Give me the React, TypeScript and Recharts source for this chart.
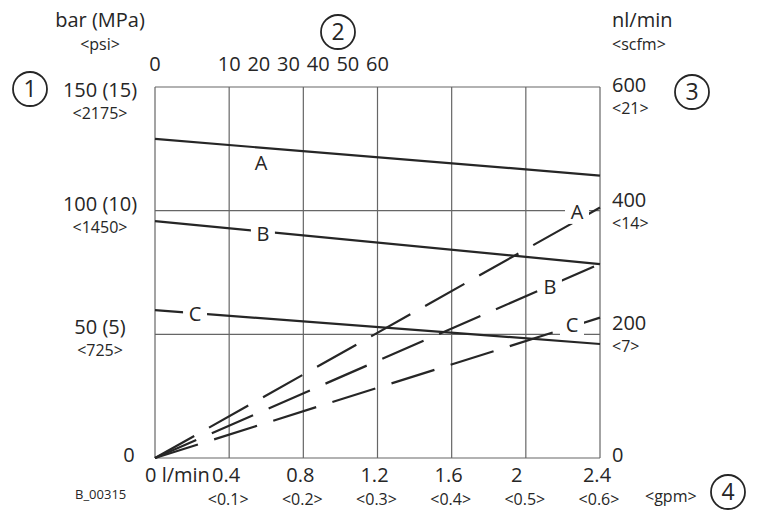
import React from 'react'
import { LineChart, Line, XAxis, YAxis, CartesianGrid, ReferenceDot } from 'recharts'

// bottom axis: flow of oil (l/min) with gpm below
const flowTicks = [0, 0.4, 0.8, 1.2, 1.6, 2, 2.4]
const flowLabels = ['0 l/min', '0.4', '0.8', '1.2', '1.6', '2', '2.4']
const gpmLabels = ['', '<0.1>', '<0.2>', '<0.3>', '<0.4>', '<0.5>', '<0.6>']

// top axis (2)
const topTicks = [0, 0.4, 0.56, 0.72, 0.88, 1.04, 1.2]
const topLabels = ['0', '10', '20', '30', '40', '50', '60']

// left axis: pressure
const pressureTicks = [0, 50, 100, 150]
const pressureLabels = ['0', '50 (5)', '100 (10)', '150 (15)']
const psiLabels = ['', '<725>', '<1450>', '<2175>']

// right axis: air flow
const airTicks = [0, 200, 400, 600]
const airLabels = ['0', '200', '400', '600']
const scfmLabels = ['', '<7>', '<14>', '<21>']

// line end points
const lineX = [0, 2.4]
const pressureA = [129, 114.2]
const pressureB = [95.8, 78.4]
const pressureC = [59.8, 46.1]
const airA = [0, 405]
const airB = [0, 314]
const airC = [0, 227]

const curveLabels = [
  { name: 'A', x: 0.572, y: 119.3, axis: 'left' },
  { name: 'B', x: 0.582, y: 90.6, axis: 'left' },
  { name: 'C', x: 0.216, y: 58.2, axis: 'left' },
  { name: 'A', x: 2.276, y: 398, axis: 'right' },
  { name: 'B', x: 2.13, y: 277, axis: 'right' },
  { name: 'C', x: 2.249, y: 215, axis: 'right' },
]

const toRows = (ys: number[]) => lineX.map((x, i) => ({ x, y: ys[i] }))

const FONT = '"Open Sans", sans-serif'
const INK = '#262626'
const GRID = '#666'

const BottomTick = ({ x, y, payload }: any) => {
  const i = flowTicks.indexOf(payload.value)
  const first = i === 0
  const nudge = first ? -10 : payload.value === 2 ? -9 : -3
  return (
    <g>
      <text x={x + nudge} y={y + 16} textAnchor={first ? 'start' : 'middle'} fontSize={20} fill={INK} fontFamily={FONT}>
        {flowLabels[i]}
      </text>
      <text x={x - 1} y={y + 39} textAnchor="middle" fontSize={16} fill={INK} fontFamily={FONT}>
        {gpmLabels[i]}
      </text>
    </g>
  )
}

const TopTick = ({ x, y, payload }: any) => {
  const i = topTicks.indexOf(payload.value)
  return (
    <text x={x} y={y - 8} textAnchor="middle" fontSize={20} fill={INK} fontFamily={FONT}>
      {topLabels[i]}
    </text>
  )
}

const LeftTick = ({ y, payload }: any) => {
  const i = pressureTicks.indexOf(payload.value)
  if (i === 0) {
    return <text x={129} y={y + 4} textAnchor="middle" fontSize={20} fill={INK} fontFamily={FONT}>0</text>
  }
  const shift = i === 3 ? 10 : 0
  return (
    <g>
      <text x={100} y={y + shift} textAnchor="middle" fontSize={20} fill={INK} fontFamily={FONT}>{pressureLabels[i]}</text>
      <text x={100} y={y + shift + 22} textAnchor="middle" fontSize={16} fill={INK} fontFamily={FONT}>{psiLabels[i]}</text>
    </g>
  )
}

const RightTick = ({ y, payload }: any) => {
  const i = airTicks.indexOf(payload.value)
  if (i === 0) {
    return <text x={612} y={y + 4} fontSize={20} fill={INK} fontFamily={FONT}>0</text>
  }
  const shift = i === 3 ? 9 : 0
  return (
    <g>
      <text x={612} y={y + shift - 4} fontSize={20} fill={INK} fontFamily={FONT}>{airLabels[i]}</text>
      <text x={612} y={y + shift + 18} fontSize={16} fill={INK} fontFamily={FONT}>{scfmLabels[i]}</text>
    </g>
  )
}

const CurveLabel = ({ cx, cy, name }: any) => (
  <g>
    <rect x={cx - 12} y={cy - 12} width={24} height={24} fill="#fff" />
    <text x={cx} y={cy + 7} textAnchor="middle" fontSize={20} fill={INK} fontFamily={FONT}>{name}</text>
  </g>
)

const Badge = ({ x, y, n }: { x: number; y: number; n: string }) => (
  <g>
    <circle cx={x} cy={y} r={17} fill="none" stroke={INK} strokeWidth={1.8} />
    <text x={x} y={y + 8} textAnchor="middle" fontSize={23} fill={INK} fontFamily={FONT}>{n}</text>
  </g>
)

export default function App() {
  return (
    <div style={{ position: 'absolute', left: 0, top: 0, width: 762, height: 515, background: '#fff' }}>
      <LineChart width={762} height={515} margin={{ top: 57, right: 62, bottom: 7, left: 55 }}>
        <CartesianGrid xAxisId="bottom" yAxisId="left" stroke={GRID} strokeWidth={1.2} />
        <XAxis xAxisId="bottom" dataKey="x" type="number" domain={[0, 2.4]} ticks={flowTicks}
          axisLine={false} tickLine={false} height={50} tick={<BottomTick />} interval={0} />
        <XAxis xAxisId="top" orientation="top" dataKey="x" type="number" domain={[0, 2.4]} ticks={topTicks}
          axisLine={false} tickLine={false} height={30} tick={<TopTick />} interval={0} />
        <YAxis yAxisId="left" type="number" domain={[0, 150]} ticks={pressureTicks}
          axisLine={false} tickLine={false} width={100} tick={<LeftTick />} interval={0} />
        <YAxis yAxisId="right" orientation="right" type="number" domain={[0, 600]} ticks={airTicks}
          axisLine={false} tickLine={false} width={100} tick={<RightTick />} interval={0} />
        {[pressureA, pressureB, pressureC].map((ys, k) => (
          <Line key={'p' + k} xAxisId="top" yAxisId="left" data={toRows(ys)} dataKey="y" type="linear"
            stroke={INK} strokeWidth={2.2} dot={false} isAnimationActive={false} />
        ))}
        {[airA, airB, airC].map((ys, k) => (
          <Line key={'a' + k} xAxisId="bottom" yAxisId="right" data={toRows(ys)} dataKey="y" type="linear"
            stroke={INK} strokeWidth={2.2} strokeDasharray="45 17" dot={false} isAnimationActive={false} />
        ))}
        {curveLabels.map((c, k) => (
          <ReferenceDot key={k} xAxisId="bottom" yAxisId={c.axis} x={c.x} y={c.y} r={0}
            shape={(p: any) => <CurveLabel {...p} name={c.name} />} />
        ))}
      </LineChart>
      <svg width={762} height={515} style={{ position: 'absolute', left: 0, top: 0, pointerEvents: 'none' }}>
        <text x={100} y={27} textAnchor="middle" fontSize={20} fill={INK} fontFamily={FONT}>bar (MPa)</text>
        <text x={100} y={50} textAnchor="middle" fontSize={16} fill={INK} fontFamily={FONT}>&lt;psi&gt;</text>
        <text x={612} y={27} fontSize={20} fill={INK} fontFamily={FONT}>nl/min</text>
        <text x={612} y={50} fontSize={16} fill={INK} fontFamily={FONT}>&lt;scfm&gt;</text>
        <text x={75} y={499} fontSize={13} fill={INK} fontFamily={FONT}>B_00315</text>
        <text x={645} y={502} fontSize={16} fill={INK} fontFamily={FONT}>&lt;gpm&gt;</text>
        <Badge x={30} y={89} n="1" />
        <Badge x={338} y={32} n="2" />
        <Badge x={692} y={92} n="3" />
        <Badge x={728} y={492} n="4" />
      </svg>
    </div>
  )
}
